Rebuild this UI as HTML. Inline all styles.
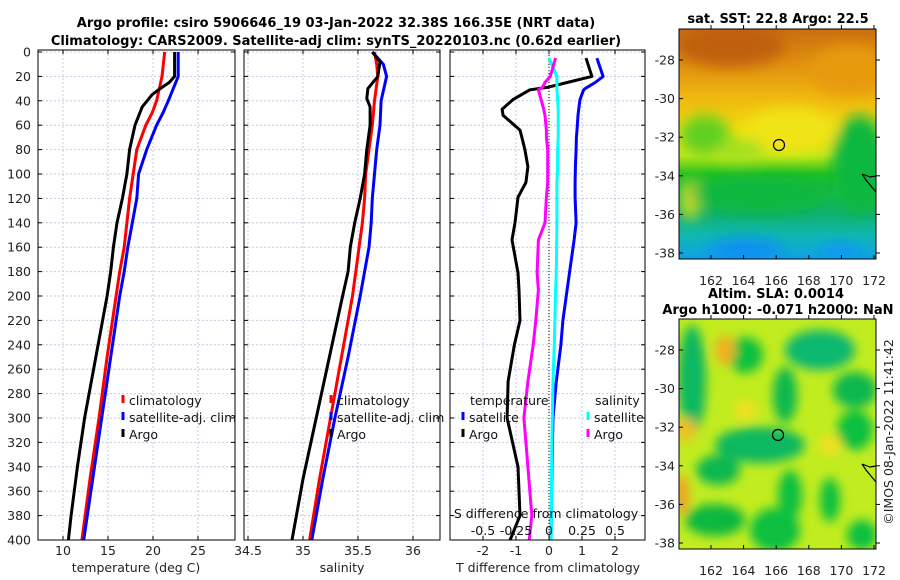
<!DOCTYPE html>
<html><head><meta charset="utf-8"><style>
body{margin:0;background:#fff;}
svg{display:block;font-family:"DejaVu Sans","Liberation Sans",sans-serif;}
</style></head><body>
<svg id="fig" width="900" height="580" viewBox="0 0 900 580" xmlns="http://www.w3.org/2000/svg">
<defs>
<filter id="blur6" x="-30%" y="-30%" width="160%" height="160%"><feGaussianBlur stdDeviation="5"/></filter>
<filter id="blur10" x="-30%" y="-30%" width="160%" height="160%"><feGaussianBlur stdDeviation="7"/></filter>
<clipPath id="cm1"><rect x="679" y="29" width="197" height="230"/></clipPath>
<clipPath id="cm2"><rect x="679" y="319" width="197" height="230"/></clipPath>
<linearGradient id="sstg" x1="0" y1="0" x2="0" y2="1">
<stop offset="0" stop-color="#c86e10"/><stop offset="0.15" stop-color="#e09010"/><stop offset="0.3" stop-color="#f0b810"/><stop offset="0.45" stop-color="#f0e010"/><stop offset="0.55" stop-color="#c0e818"/><stop offset="0.63" stop-color="#20c020"/><stop offset="0.8" stop-color="#10b070"/><stop offset="0.9" stop-color="#10b8b0"/><stop offset="1" stop-color="#10a0e8"/>
</linearGradient>
</defs>
<g font-weight="bold" font-size="13" text-anchor="middle">
<text x="336" y="27">Argo profile: csiro 5906646_19 03-Jan-2022 32.38S 166.35E (NRT data)</text>
<text x="336" y="45">Climatology: CARS2009. Satellite-adj clim: synTS_20220103.nc (0.62d earlier)</text>
</g>
<g id="plots"></g>
<!-- SST map -->
<g clip-path="url(#cm1)">
<rect x="679" y="29" width="197" height="230" fill="url(#sstg)"/>
<g filter="url(#blur10)">
<ellipse cx="730" cy="45" rx="55" ry="22" fill="#c06010"/>
<ellipse cx="850" cy="70" rx="40" ry="25" fill="#e89a10"/>
<ellipse cx="790" cy="130" rx="45" ry="22" fill="#f0e418"/>
<ellipse cx="860" cy="165" rx="28" ry="50" fill="#10b840"/>
<ellipse cx="705" cy="135" rx="25" ry="20" fill="#60d020"/>
<ellipse cx="740" cy="150" rx="25" ry="10" fill="#a0e020"/>
<ellipse cx="690" cy="200" rx="10" ry="20" fill="#d0e020"/>
<ellipse cx="760" cy="195" rx="70" ry="18" fill="#10b840"/>
<ellipse cx="745" cy="250" rx="38" ry="12" fill="#1090f0"/>
<ellipse cx="840" cy="252" rx="22" ry="9" fill="#1098f0"/>
</g>
<circle cx="779" cy="145" r="5.5" fill="none" stroke="#000" stroke-width="1.2"/>
<path d="M862,174 L866,180 L876,192 M862,174 L870,177 L876,176" fill="none" stroke="#000" stroke-width="1.2"/>
</g>
<rect x="679" y="29" width="197" height="230" fill="none" stroke="#000" stroke-width="1"/>
<!-- SLA map -->
<g clip-path="url(#cm2)">
<rect x="679" y="319" width="197" height="230" fill="#c0ec20"/>
<g filter="url(#blur6)">
<ellipse cx="692" cy="380" rx="14" ry="55" fill="#10b860"/>
<ellipse cx="745" cy="355" rx="18" ry="18" fill="#10c040"/>
<ellipse cx="785" cy="395" rx="12" ry="28" fill="#10b850"/>
<ellipse cx="760" cy="445" rx="45" ry="18" fill="#10b860"/>
<ellipse cx="820" cy="350" rx="35" ry="20" fill="#10b870"/>
<ellipse cx="855" cy="390" rx="22" ry="18" fill="#10b850"/>
<ellipse cx="855" cy="430" rx="18" ry="20" fill="#10c040"/>
<ellipse cx="718" cy="470" rx="22" ry="15" fill="#10b850"/>
<ellipse cx="715" cy="520" rx="30" ry="16" fill="#10b840"/>
<ellipse cx="775" cy="530" rx="25" ry="22" fill="#10c040"/>
<ellipse cx="790" cy="495" rx="12" ry="25" fill="#10c040"/>
<ellipse cx="830" cy="500" rx="10" ry="22" fill="#10c040"/>
<ellipse cx="862" cy="535" rx="15" ry="15" fill="#10c040"/>
<ellipse cx="725" cy="350" rx="10" ry="15" fill="#f0b020"/>
<ellipse cx="686" cy="430" rx="10" ry="12" fill="#f0c020"/>
<ellipse cx="682" cy="495" rx="7" ry="20" fill="#f0a020"/>
<ellipse cx="745" cy="410" rx="12" ry="10" fill="#f0e020"/>
<ellipse cx="830" cy="445" rx="12" ry="10" fill="#f0e020"/>
</g>
<circle cx="778" cy="435" r="5.5" fill="none" stroke="#000" stroke-width="1.2"/>
<path d="M862,464 L866,470 L876,482 M862,464 L870,467 L876,466" fill="none" stroke="#000" stroke-width="1.2"/>
</g>
<rect x="679" y="319" width="197" height="230" fill="none" stroke="#000" stroke-width="1"/>
<g font-weight="bold" font-size="13" text-anchor="middle">
<text x="778" y="23">sat. SST: 22.8 Argo: 22.5</text>
<text x="776" y="298">Altim. SLA: 0.0014</text>
<text x="778" y="314">Argo h1000: -0.071 h2000: NaN</text>
</g>
<text font-size="12.5" fill="#222" transform="translate(893,432) rotate(-90)" text-anchor="middle">©IMOS 08-Jan-2022 11:41:42</text>
<g id="mapaxes"></g>
</svg>
<script>
// ---- data ----
const depthT = [0,20,25,30,35,45,60,80,100,120,140,160,180,200,220,240,260,280,300,340,380,400];
const argoTemp = [22.4,22.4,21.8,20.8,19.9,18.8,18.0,17.4,17.1,16.6,16.0,15.6,15.3,14.9,14.4,13.9,13.4,12.9,12.4,11.6,10.9,10.6];
const depthC = [0,20,40,50,60,80,100,120,140,160,180,200,250,300,350,400];
const climTemp = [21.3,21.0,20.4,19.9,19.2,18.2,17.8,17.4,17.1,16.8,16.3,15.9,14.9,14.0,13.0,12.1];
const satTemp = [22.8,22.8,21.7,21.1,20.4,19.3,18.4,18.2,17.7,17.2,16.8,16.3,15.3,14.3,13.3,12.3];
const depthS = [0,8,20,30,38,45,60,80,100,120,140,160,180,200,250,300,350,400];
const argoSal = [35.63,35.70,35.68,35.59,35.58,35.61,35.61,35.58,35.56,35.52,35.47,35.43,35.41,35.36,35.24,35.12,35.00,34.90];
const depthSC = [0,10,20,40,60,80,100,120,140,160,180,200,250,300,350,400];
const climSal = [35.65,35.67,35.68,35.65,35.63,35.60,35.57,35.56,35.54,35.51,35.48,35.45,35.35,35.25,35.15,35.06];
const satSal = [35.63,35.73,35.76,35.71,35.70,35.67,35.65,35.63,35.62,35.60,35.56,35.52,35.41,35.29,35.18,35.08];
const depthD = [5,20,25,29,31,39,47,52,64,70,80,94,107,119,140,154,181,195,220,240,270,300,340,380,400];
const argoTdiff = [1.12,1.3,0.55,-0.06,-0.58,-1.09,-1.42,-1.39,-0.88,-0.82,-0.73,-0.64,-0.7,-0.94,-1.03,-1.12,-0.94,-0.91,-0.88,-1.05,-1.24,-1.27,-0.94,-0.88,-1.18];
const satTdiff = [1.45,1.64,1.4,1.15,1.05,0.94,0.9,0.88,0.85,0.83,0.82,0.8,0.79,0.79,0.82,0.76,0.62,0.55,0.42,0.36,0.22,0.12,0.09,0.07,0.06];
const argoSdiff = [0.05,0.01,-0.03,-0.05,-0.08,-0.06,-0.04,-0.03,-0.02,-0.02,-0.01,-0.01,-0.01,-0.02,-0.03,-0.08,-0.09,-0.08,-0.1,-0.12,-0.16,-0.19,-0.16,-0.13,-0.15];
const satSdiff = [0.0,0.06,0.06,0.06,0.06,0.065,0.07,0.07,0.07,0.07,0.065,0.065,0.06,0.06,0.06,0.058,0.055,0.05,0.045,0.04,0.03,0.025,0.02,0.018,0.016];
const depthTicks = [0,20,40,60,80,100,120,140,160,180,200,220,240,260,280,300,320,340,360,380,400];
const tempTicks = [10,15,20,25];
const salTicks = [34.5,35,35.5,36];
const tdTicks = [-2,-1,0,1,2];
const sdTicks = [-0.5,-0.25,0,0.25,0.5];
const lonTicks = [162,164,166,168,170,172];
const latTicks = [-28,-30,-32,-34,-36,-38];

const NS='http://www.w3.org/2000/svg';
const root=document.getElementById('plots');
function el(tag,attrs,parent,txt){const e=document.createElementNS(NS,tag);for(const k in attrs)e.setAttribute(k,attrs[k]);if(txt!==undefined)e.textContent=txt;(parent||root).appendChild(e);return e;}
const Y0=52,Y1=540;
const yD=d=>Y0+(Y1-Y0)*d/400;
const x1=t=>63+(t-10)*9;
const x2=s=>303+(s-35)*110;
const x3=t=>549+t*33;
const x3s=s=>549+s*132;
const panels=[{x:38,w:197,name:'temperature-panel'},{x:244,w:196,name:'salinity-panel'},{x:450,w:195,name:'difference-panel'}];

panels.forEach((p,i)=>{
  const g=el('g',{});
  
  
  el('rect',{x:p.x,y:Y0-2,width:p.w,height:Y1-Y0+2,fill:'#fff'},g);
  const xt = i==0?tempTicks.map(x1):i==1?salTicks.map(x2):tdTicks.map(x3);
  xt.forEach(x=>el('line',{x1:x,x2:x,y1:Y0-2,y2:Y1,stroke:'#c4cae0','stroke-dasharray':'2,2','stroke-width':1},g));
  depthTicks.forEach(d=>{
    el('line',{x1:p.x,x2:p.x+p.w,y1:yD(d),y2:yD(d),stroke:'#c4cae0','stroke-dasharray':'2,2','stroke-width':1},g);
    el('line',{x1:p.x,x2:p.x+4,y1:yD(d),y2:yD(d),stroke:'#000'},g);
    el('line',{x1:p.x+p.w-4,x2:p.x+p.w,y1:yD(d),y2:yD(d),stroke:'#000'},g);
  });
  xt.forEach(x=>{el('line',{x1:x,x2:x,y1:Y1,y2:Y1-4,stroke:'#000'},g);el('line',{x1:x,x2:x,y1:Y0-2,y2:Y0+2,stroke:'#000'},g);});
});
// y labels
const yl=el('g',{'font-size':'12.5','text-anchor':'end',fill:'#222'});


depthTicks.forEach(d=>el('text',{x:31,y:yD(d)+4.5},yl,String(d)));

function line(xs,ds,fx,color,name,w){
  const pts=xs.map((v,i)=>fx(v).toFixed(1)+','+yD(ds[i]).toFixed(1)).join(' ');
  const e=el('polyline',{points:pts,fill:'none',stroke:color,'stroke-width':w||3,'stroke-linejoin':'round'});
  
  
}
// panel 1
line(climTemp,depthC,x1,'#ff0000','climatology-temp-line');
line(satTemp,depthC,x1,'#0000ff','satellite-temp-line');
line(argoTemp,depthT,x1,'#000','argo-temp-line');
// panel 2
line(climSal,depthSC,x2,'#ff0000','climatology-salinity-line');
line(satSal,depthSC,x2,'#0000ff','satellite-salinity-line');
line(argoSal,depthS,x2,'#000','argo-salinity-line');
// panel 3
el('line',{x1:549,x2:549,y1:Y0,y2:Y1,stroke:'#333','stroke-dasharray':'1,2','stroke-width':1.2});
line(satTdiff,depthD,x3,'#0000ff','satellite-tdiff-line');
line(argoTdiff,depthD,x3,'#000','argo-tdiff-line');
line(satSdiff,depthD,x3s,'#00ffff','satellite-sdiff-line');
line(argoSdiff,depthD,x3s,'#ff00ff','argo-sdiff-line');
// borders
panels.forEach(p=>el('rect',{x:p.x,y:Y0-2,width:p.w,height:Y1-Y0+2,fill:'none',stroke:'#000','stroke-width':1}));
// x labels
function xlab(ticks,fx,name,title,tx){
  const g=el('g',{'font-size':'12.5','text-anchor':'middle',fill:'#222'});
  
  
  ticks.forEach(t=>el('text',{x:fx(t),y:555},g,String(t)));
  el('text',{x:tx,y:572},g,title);
}
xlab(tempTicks,x1,'temperature-x-axis','temperature (deg C)',136);
xlab(salTicks,x2,'salinity-x-axis','salinity',342);
xlab(tdTicks,x3,'tdiff-x-axis','T difference from climatology',548);
const sg=el('g',{'font-size':'12.5','text-anchor':'middle',fill:'#111'});


sdTicks.forEach(t=>el('text',{x:x3s(t),y:535},sg,String(t)));
el('text',{x:546,y:518},sg,'S difference from climatology');
// legends
function legend(x,y,items,name){
  const g=el('g',{'font-size':'12.5',fill:'#111'});
  
  
  items.forEach((it,i)=>{
    el('line',{x1:x,x2:x,y1:y+i*17-10,y2:y+i*17-2,stroke:it[1],'stroke-width':3},g);
    el('text',{x:x+6,y:y+i*17},g,it[0]);
  });
}
legend(123,405,[['climatology','#ff0000'],['satellite-adj. clim','#0000ff'],['Argo','#000']],'temperature-legend');
legend(331,405,[['climatology','#ff0000'],['satellite-adj. clim','#0000ff'],['Argo','#000']],'salinity-legend');
el('text',{x:470,y:405,'font-size':'12.5',fill:'#111'},null,'temperature');
el('text',{x:595,y:405,'font-size':'12.5',fill:'#111'},null,'salinity');
legend(463,422,[['satellite','#0000ff'],['Argo','#000']],'tdiff-legend');
legend(588,422,[['satellite','#00ffff'],['Argo','#ff00ff']],'sdiff-legend');

// map axes
const ma=document.getElementById('mapaxes');
[[29,60,253,273],[319,350,543,563]].forEach((m,k)=>{
  const g=el('g',{'font-size':'12.5',fill:'#222'},ma);
  
  
  const lx=l=>711+(l-162)*16.3;
  const ly=la=>m[1]+(-28-la)*(m[2]-m[1])/10;
  lonTicks.forEach(l=>{el('text',{x:lx(l),y:m[3]+12,'text-anchor':'middle'},g,String(l));
    el('line',{x1:lx(l),x2:lx(l),y1:m[0]+230,y2:m[0]+226,stroke:'#000'},g);el('line',{x1:lx(l),x2:lx(l),y1:m[0],y2:m[0]-4,stroke:'#000'},g);});
  latTicks.forEach(la=>{el('text',{x:675,y:ly(la)+4.5,'text-anchor':'end'},g,String(la));
    el('line',{x1:876,x2:880,y1:ly(la),y2:ly(la),stroke:'#000'},g);el('line',{x1:679,x2:683,y1:ly(la),y2:ly(la),stroke:'#000'},g);});
});
</script>
</body></html>
